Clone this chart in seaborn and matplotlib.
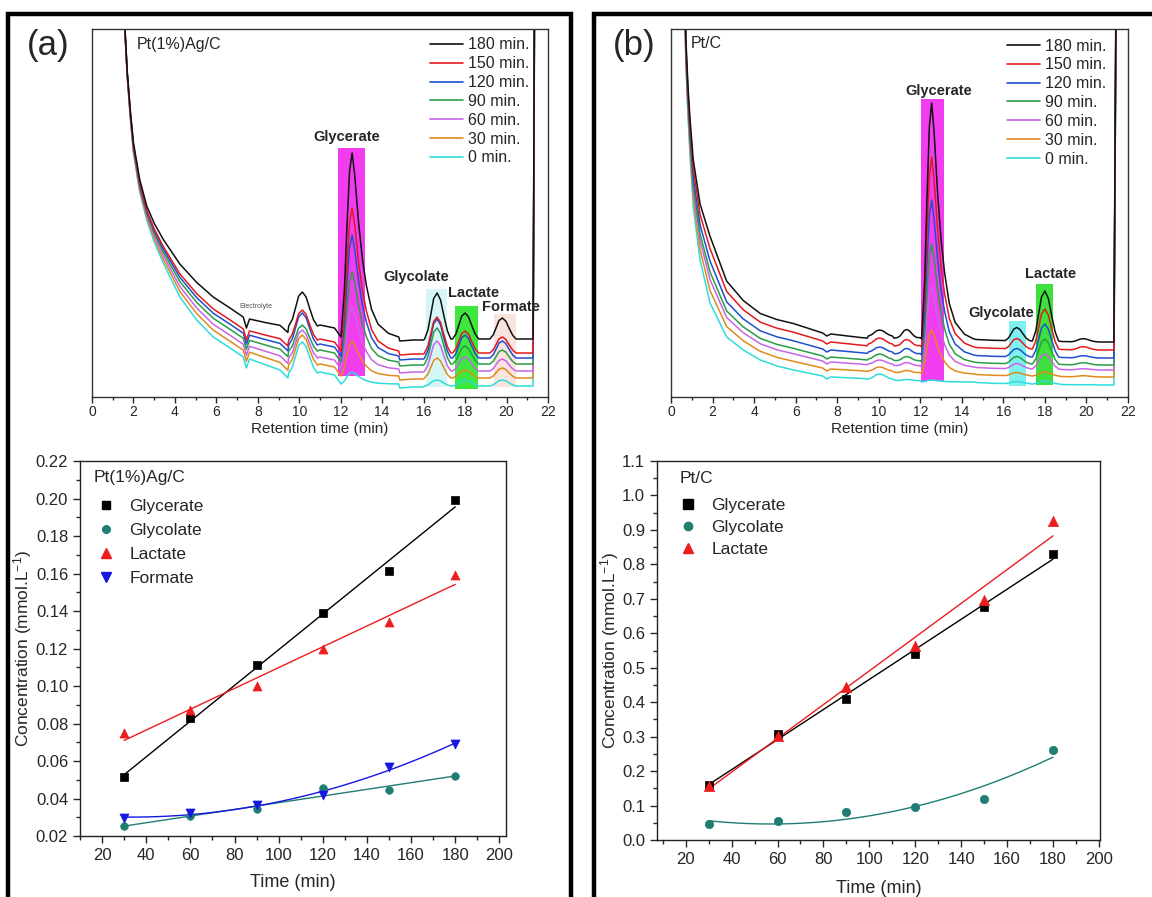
import numpy as np
import pandas as pd
import matplotlib
matplotlib.use("Agg")
import matplotlib.pyplot as plt
import seaborn as sns
from matplotlib.lines import Line2D
from matplotlib.patches import Rectangle
from matplotlib.ticker import MultipleLocator, FormatStrFormatter

# ------------------------------------------------------------------ kinetics data
TIME_MIN = [30, 60, 90, 120, 150, 180]
A_GLYCERATE = [0.0515, 0.0831, 0.1110, 0.1388, 0.1613, 0.1990]
A_GLYCOLATE = [0.0252, 0.0305, 0.0342, 0.0456, 0.0444, 0.0520]
A_LACTATE = [0.0749, 0.0874, 0.0998, 0.1199, 0.1341, 0.1594]
A_FORMATE = [0.0296, 0.0324, 0.0364, 0.0417, 0.0568, 0.0692]
B_GLYCERATE = [0.161, 0.309, 0.409, 0.541, 0.677, 0.830]
B_GLYCOLATE = [0.045, 0.055, 0.080, 0.097, 0.120, 0.261]
B_LACTATE = [0.158, 0.302, 0.445, 0.564, 0.698, 0.925]

# ------------------------------------------------------------------ chromatogram data (signal in arbitrary units)
TRACE_LABELS = ["0 min.", "30 min.", "60 min.", "90 min.", "120 min.", "150 min.", "180 min."]
TRACE_COLORS = ["#2fdcdc", "#e08a1e", "#c865e6", "#2a9d45", "#1f4fd0", "#e31a1c", "#111111"]

# peak shape profiles (relative time, relative height)
MAIN_DT = [-0.43, -0.30, -0.20, -0.10, 0.00, 0.10, 0.25, 0.40, 0.55, 0.75, 1.00, 1.40, 1.80]
MAIN_W = [0.0, 0.25, 0.60, 0.90, 1.0, 0.88, 0.62, 0.42, 0.28, 0.15, 0.07, 0.02, 0.0]
SMALL_DT = [-0.55, -0.40, -0.27, -0.15, 0.00, 0.15, 0.30, 0.45, 0.60]
SMALL_W = [0.0, 0.20, 0.55, 0.88, 1.0, 0.85, 0.50, 0.18, 0.0]

# panel (a) Pt(1%)Ag/C
A_BASE_T = [1.50, 1.58, 1.70, 1.85, 2.00, 2.30, 2.64, 3.00, 3.44, 4.24, 5.05, 5.85, 6.66, 7.30,
            7.45, 7.60, 8.40, 9.07, 9.45, 11.00, 11.70, 14.85, 15.50, 16.00,
            18.80, 19.15, 20.60, 21.28, 21.36]
A_BASE_H = [430, 368, 320, 278, 244, 205, 177, 155, 134, 100, 77, 60, 49, 40,
            29, 38, 32, 27, 19, 25, 22, 9, 10, 10,
            11, 11, 11, 11, 430]
A_SPREAD = [0.10, 0.10, 0.12, 0.18, 0.22, 0.27, 0.30, 0.40, 0.50, 0.70, 0.80, 0.85, 0.85, 0.85,
            0.85, 0.85, 0.90, 0.95, 0.97, 1.0, 1.0, 1.0, 1.0, 1.0,
            1.0, 1.0, 1.0, 1.0, 1.0]
A_OFFSET = [0, 8, 15, 22, 28, 33, 47]
A_PEAK_CENTER = [10.15, 12.55, 16.65, 18.00, 19.80]
A_PEAK_WIDTH = [1.2, 1.25, 1.1, 1.1, 1.1]
A_PEAK_FLOOR = [24, 13, 11, 11, 11]
A_PEAK_KIND = ["small", "main", "small", "small", "small"]
A_PEAK_HEIGHT = [
    [31, 30, 28, 26, 32, 30, 34],      # 10.1 min
    [12, 35, 62, 90, 121, 143, 184],   # glycerate
    [6, 20, 30, 36, 39, 36, 46],       # glycolate
    [6, 8, 14, 18, 23, 22, 26],        # lactate
    [6, 10, 12, 14, 17, 16, 21],       # formate
]

# panel (b) Pt/C
B_BASE_T = [0.62, 0.72, 0.82, 0.92, 1.07, 1.40, 1.88, 2.68, 3.48, 4.30, 5.10, 5.90, 7.30, 7.50,
            7.70, 9.10, 9.45, 10.75, 12.02, 14.70, 15.50, 16.00, 17.35, 18.80, 19.20, 20.60,
            21.32, 21.44]
B_BASE_H = [430, 330, 280, 240, 190, 137, 94, 60, 47, 37, 31, 27, 21, 18,
            20, 18.7, 18, 17, 16.3, 14.5, 13.7, 13.5, 13, 12.5, 12.3, 12,
            12, 430]
B_SPREAD = [0.5, 0.6, 0.7, 0.85, 1.1, 1.3, 1.55, 1.3, 1.15, 1.08, 1.08, 1.08, 1.0, 1.0,
            1.0, 0.95, 0.95, 0.97, 1.0, 1.0, 1.0, 1.0, 1.0, 1.0, 1.0, 1.0,
            1.0, 1.0]
B_OFFSET = [0, 8, 15, 20, 27, 35, 43]
B_PEAK_CENTER = [10.05, 11.35, 12.55, 16.65, 18.00, 19.85]
B_PEAK_WIDTH = [1.0, 0.8, 1.13, 1.0, 1.1, 1.0]
B_PEAK_FLOOR = [18, 16.5, 15, 13.5, 13, 12.3]
B_PEAK_KIND = ["small", "small", "main", "small", "small", "small"]
B_PEAK_HEIGHT = [
    [5, 4, 4, 5, 5, 6, 6],             # 10 min
    [1, 2, 3, 4, 5, 6, 8],             # 11.3 min
    [2, 44, 80, 118, 155, 190, 236],   # glycerate
    [2, 3, 5, 7, 8, 10, 13],           # glycolate
    [3, 4, 15, 25, 33, 40, 50],        # lactate
    [0, 1, 1, 2, 2, 3, 3],             # 19.8 min
]

PROFILES = {"main": (MAIN_DT, MAIN_W), "small": (SMALL_DT, SMALL_W)}


def build_traces(base_t, base_h, spread, offsets, centers, widths, floors, kinds, heights):
    windows = []
    for c, w, k in zip(centers, widths, kinds):
        dts = PROFILES[k][0]
        windows.append((c + dts[0] * w, c + dts[-1] * w))
    rows = []
    for j, lab in enumerate(TRACE_LABELS):
        pts = []
        for t, h, s in zip(base_t, base_h, spread):
            if any(lo <= t <= hi for lo, hi in windows):
                continue
            pts.append((t, h + offsets[j] * s))
        for p, (c, w, f, k) in enumerate(zip(centers, widths, floors, kinds)):
            dts, wts = PROFILES[k]
            for dt, wt in zip(dts, wts):
                pts.append((c + dt * w, f + offsets[j] + heights[p][j] * wt))
        pts.sort()
        rows += [{"t": t, "signal": v, "trace": lab} for t, v in pts]
    return pd.DataFrame(rows)


# ------------------------------------------------------------------ style
sns.set_style("ticks")
plt.rcParams["font.family"] = ["Liberation Sans", "DejaVu Sans"]
plt.rcParams["mathtext.default"] = "regular"
plt.rcParams["axes.linewidth"] = 1.0

W, H = 1152, 897
fig = plt.figure(figsize=(W / 100, H / 100), dpi=100)
fig.patch.set_facecolor("white")


def fx(px):
    return px / W


def fy(py):
    return 1 - py / H


# frames
frame_kw = dict(color="black", lw=3.2, solid_joinstyle="miter", transform=fig.transFigure)
fig.add_artist(Line2D([fx(8), fx(8), fx(571), fx(571)], [fy(905), fy(14), fy(14), fy(905)], **frame_kw))
fig.add_artist(Line2D([fx(594), fx(594), fx(1160)], [fy(905), fy(14), fy(14)], **frame_kw))
fig.text(fx(48), fy(46), "(a)", fontsize=25, ha="center", va="center")
fig.text(fx(634), fy(46), "(b)", fontsize=25, ha="center", va="center")

ax_ta = fig.add_axes([fx(92), fy(397), fx(456), 368 / H])
ax_tb = fig.add_axes([fx(671), fy(397), fx(457), 368 / H])
ax_ba = fig.add_axes([fx(80), fy(836), fx(426), 375 / H])
ax_bb = fig.add_axes([fx(657), fy(840), fx(443), 379 / H])

palette = dict(zip(TRACE_LABELS, TRACE_COLORS))


def chromatogram(ax, df, rects, labels, name, name_t, legend_xy):
    for (t0, t1, h0, h1, col) in rects:
        ax.add_patch(Rectangle((t0, h0), t1 - t0, h1 - h0, facecolor=col, edgecolor="none", zorder=1))
    sns.lineplot(data=df, x="t", y="signal", hue="trace", hue_order=TRACE_LABELS, palette=palette,
                 estimator=None, sort=False, lw=1.1, legend=False, ax=ax, zorder=2)
    ax.set_xlim(0, 22)
    ax.set_ylim(0, 368)
    ax.set_yticks([])
    ax.xaxis.set_major_locator(MultipleLocator(2))
    ax.xaxis.set_minor_locator(MultipleLocator(1))
    ax.tick_params(axis="x", which="major", direction="out", length=4, width=1, labelsize=10, pad=2)
    ax.tick_params(axis="x", which="minor", direction="out", length=2.5, width=1)
    ax.set_xlabel("Retention time (min)", fontsize=11, labelpad=2)
    ax.set_ylabel("")
    for sp in ax.spines.values():
        sp.set_visible(True)
        sp.set_color("#333333")
    for (txt, t, h, fs, kw) in labels:
        ax.text(t, h, txt, fontsize=fs, ha="center", va="center", zorder=5, **kw)
    ax.text(name_t, 353, name, fontsize=11.5, ha="left", va="center")
    handles = [Line2D([], [], color=palette[l], lw=1.2) for l in TRACE_LABELS[::-1]]
    ax.legend(handles, TRACE_LABELS[::-1], loc="upper left", bbox_to_anchor=legend_xy,
              frameon=False, fontsize=11.5, handlelength=2.1, handletextpad=0.3,
              labelspacing=0.24, borderpad=0, borderaxespad=0)


df_a = build_traces(A_BASE_T, A_BASE_H, A_SPREAD, A_OFFSET, A_PEAK_CENTER, A_PEAK_WIDTH,
                    A_PEAK_FLOOR, A_PEAK_KIND, A_PEAK_HEIGHT)
df_b = build_traces(B_BASE_T, B_BASE_H, B_SPREAD, B_OFFSET, B_PEAK_CENTER, B_PEAK_WIDTH,
                    B_PEAK_FLOOR, B_PEAK_KIND, B_PEAK_HEIGHT)

bold = dict(fontweight="bold")
chromatogram(
    ax_ta, df_a,
    rects=[(11.88, 13.17, 21, 249, "#f23cf0"), (16.09, 17.14, 10, 108, "#d6f6f6"),
           (17.51, 18.63, 8, 91, "#3de83d"), (19.39, 20.48, 10, 83, "#f8e3df")],
    labels=[("Glycerate", 12.28, 260, 10.5, bold), ("Glycolate", 15.66, 120, 10.5, bold),
            ("Lactate", 18.39, 104, 10.5, bold), ("Formate", 20.19, 90, 10.5, bold),
            ("Electrolyte", 7.89, 91, 5, dict(color="#555555"))],
    name="Pt(1%)Ag/C", name_t=2.16, legend_xy=(0.741, 0.977))
chromatogram(
    ax_tb, df_b,
    rects=[(12.04, 13.13, 16, 298, "#f23cf0"), (16.26, 17.09, 11, 76, "#7ef0f0"),
           (17.56, 18.41, 12, 113, "#3de03d")],
    labels=[("Glycerate", 12.87, 306, 10.5, bold), ("Glycolate", 15.92, 84, 10.5, bold),
            ("Lactate", 18.25, 123, 10.5, bold)],
    name="Pt/C", name_t=0.95, legend_xy=(0.735, 0.974))

# ------------------------------------------------------------------ kinetics panels
TEAL = "#1f7d72"
RED = "#ee1c1c"
BLUE = "#1616e0"


def kinetics(ax, series, xlim, ylim, ymajor, yminor, yfmt, title, title_xy, leg_xy, spacing,
             msize, xlabelpad):
    for (name, vals, color, marker, order, s) in series:
        sns.regplot(x=TIME_MIN, y=vals, order=order, ci=None, scatter=False, truncate=True,
                    line_kws=dict(color=color, lw=1.0), ax=ax)
    for (name, vals, color, marker, order, s) in series:
        sns.scatterplot(x=TIME_MIN, y=vals, marker=marker, s=s, color=color, edgecolor=color,
                        linewidth=0.5, ax=ax, zorder=4)
    ax.set_xlim(*xlim)
    ax.set_ylim(*ylim)
    ax.xaxis.set_minor_locator(MultipleLocator(10))
    ax.yaxis.set_major_locator(MultipleLocator(ymajor))
    ax.yaxis.set_minor_locator(MultipleLocator(yminor))
    ax.yaxis.set_major_formatter(FormatStrFormatter(yfmt))
    ax.tick_params(which="major", direction="out", length=5, width=1, labelsize=12)
    ax.tick_params(which="minor", direction="out", length=3, width=1)
    ax.set_xticks([t for t in range(20, 201, 20)])
    for sp in ax.spines.values():
        sp.set_visible(True)
        sp.set_color("#222222")
    ax.set_xlabel("Time (min)", fontsize=13, labelpad=xlabelpad)
    ax.set_ylabel(r"Concentration (mmol.L$^{-1}$)", fontsize=12.5, labelpad=1)
    ax.text(title_xy[0], title_xy[1], title, transform=ax.transAxes, fontsize=12.5,
            ha="left", va="center")
    handles = [Line2D([], [], ls="", marker=m, color=c, markeredgecolor=c, markersize=ms)
               for (n, v, c, m, o, s), ms in zip(series, msize)]
    ax.legend(handles, [sr[0] for sr in series], loc="upper left",
              bbox_to_anchor=leg_xy, frameon=False, fontsize=12.5,
              handlelength=1.4, handletextpad=0.67,
              labelspacing=spacing, borderpad=0, borderaxespad=0)


kinetics(ax_ba,
         [("Glycerate", A_GLYCERATE, "black", "s", 1, 30),
          ("Glycolate", A_GLYCOLATE, TEAL, "o", 1, 30),
          ("Lactate", A_LACTATE, RED, "^", 1, 42),
          ("Formate", A_FORMATE, BLUE, "v", 2, 42)],
         xlim=(10, 203), ylim=(0.02, 0.22), ymajor=0.02, yminor=0.01, yfmt="%.2f",
         title="Pt(1%)Ag/C", title_xy=(0.033, 0.957), leg_xy=(0.032, 0.900), spacing=0.52,
         msize=[6, 5.5, 7, 7], xlabelpad=8)
kinetics(ax_bb,
         [("Glycerate", B_GLYCERATE, "black", "s", 1, 36),
          ("Glycolate", B_GLYCOLATE, TEAL, "o", 2, 36),
          ("Lactate", B_LACTATE, RED, "^", 1, 55)],
         xlim=(7.5, 200.5), ylim=(0.0, 1.1), ymajor=0.1, yminor=0.05, yfmt="%.1f",
         title="Pt/C", title_xy=(0.052, 0.953), leg_xy=(0.042, 0.903), spacing=0.40,
         msize=[6.5, 6, 7.5], xlabelpad=9.5)

fig.savefig("out.png", dpi=100)
